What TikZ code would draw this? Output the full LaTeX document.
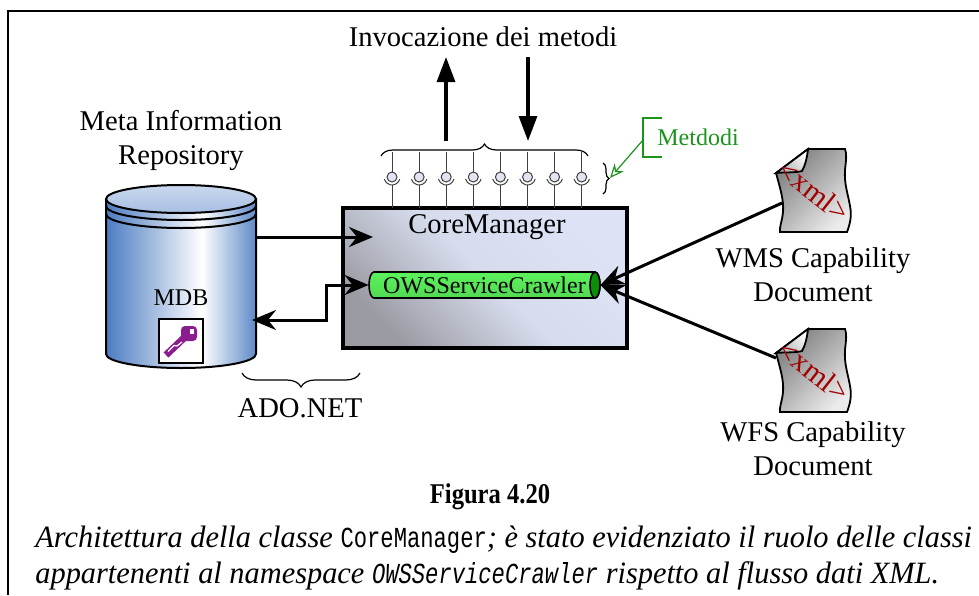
\documentclass[tikz,border=0pt]{standalone}
\usepackage{fontspec}
\setmainfont{Liberation Serif}
\setmonofont{Liberation Mono}
\usetikzlibrary{arrows.meta,decorations.pathreplacing}

\definecolor{dbblue}{HTML}{4C7CC2}
\definecolor{dbtop}{HTML}{A7BFE3}
\definecolor{boxlight}{HTML}{DDE3F5}
\definecolor{boxdark}{HTML}{9A9AA2}
\definecolor{tubegreen}{HTML}{5CF25C}
\definecolor{tubelight}{HTML}{E0FFE0}
\definecolor{tubeend}{HTML}{0B8F0B}
\definecolor{keypurple}{HTML}{8A1E8E}
\definecolor{xmlred}{HTML}{A30000}
\definecolor{notegreen}{HTML}{1A941A}
\definecolor{sockfill}{HTML}{E1E5F1}

% cylinder body, light band right of the middle
\pgfdeclarehorizontalshading{dbbody}{100bp}{color(0bp)=(dbblue); color(25bp)=(dbblue); color(57bp)=(white); color(75bp)=(dbblue!90); color(100bp)=(dbblue!90)}

\newcommand{\bigfont}{\fontsize{14.3}{17}\selectfont}
\newcommand{\smallfont}{\fontsize{12}{14}\selectfont}
% narrow typewriter words inside the caption
\newcommand{\capmono}[1]{\scalebox{0.78}[1]{\fontsize{14.5}{18}\selectfont\ttfamily #1}}

\tikzset{fat/.tip={Stealth[length=12pt, width=10pt, inset=4pt]}}

\begin{document}
\begin{tikzpicture}[x=0.5pt, y=-0.5pt,
  lbl/.style={font=\bigfont, inner sep=0pt, align=center},
  call/.style={line width=1.6pt, -{Triangle[length=12.5pt, width=9pt]}},
  flow/.style={line width=1.5pt, -fat},
  flowboth/.style={line width=1.5pt, fat-fat},
  stem/.style={line width=0.5pt, black!75},
  brc/.style={decorate, line width=0.6pt},
  doc/.style={draw, line width=0.9pt, top color=black!8, bottom color=black!50, shading angle=-135},
  flap/.style={draw, line width=0.9pt, top color=white, bottom color=black!30, shading angle=-45},
  capline/.style={font=\fontsize{15.5}{18}\selectfont, inner sep=0pt, anchor=base west},
]
\useasboundingbox (0,0) rectangle (979,595);
\draw[line width=1.1pt] (8,595) -- (8,11) -- (979,11);

% repository
\node[lbl] (repo) at (181,141) {Meta Information\\Repository};
\shadedraw[shading=dbbody, line width=1pt] (106,199) -- (106,354)
  arc[start angle=180, end angle=0, x radius=75, y radius=14] -- (256,199) -- cycle;
\shadedraw[top color=dbtop!60!white, bottom color=dbtop, line width=1pt]
  (181,199) ellipse[x radius=75, y radius=14];
\draw[line width=1pt] (106,206) arc[start angle=180, end angle=0, x radius=75, y radius=14];
\draw[line width=1pt] (106,214) arc[start angle=180, end angle=0, x radius=75, y radius=14];
\node[font=\smallfont, inner sep=0pt] (mdb) at (181,298) {MDB};
\node[draw, fill=white, line width=0.8pt, minimum size=22pt, inner sep=0pt] (keybox) at (181,341) {};
% key
\fill[keypurple, rounded corners=2pt] (181,326) rectangle (197,341);
\fill[white] (189.5,329) rectangle (194,333.5);
\draw[keypurple, line width=3.5pt] (185,337) -- (166,355);
\draw[white, line width=0.6pt] (182,342) -- (177,346) -- (174,345.5) -- (168,351.5);

\draw[brc, decoration={brace, amplitude=7pt}] (360,373) -- (242,373);
\node[lbl] (ado) at (300,408) {ADO.NET};

% core manager
\node[draw, line width=1.6pt, minimum width=142pt, minimum height=70pt,
  top color=boxlight, bottom color=boxdark, middle color=boxlight!90!boxdark,
  shading angle=-45] (core) at (485,278) {};
\node[lbl] (coretitle) at (487,227) {CoreManager};

\shadedraw[line width=0.8pt, top color=tubegreen, middle color=tubelight, bottom color=tubegreen!90!black]
  (374,272) -- (595,272) arc[start angle=-90, end angle=90, x radius=5, y radius=13]
  -- (374,298) arc[start angle=90, end angle=270, x radius=5, y radius=13] -- cycle;
\draw[line width=0.8pt, fill=tubeend] (595,285) ellipse[x radius=5, y radius=13];
\node[font=\smallfont, inner sep=0pt, minimum width=115.5pt, minimum height=13pt] (crawler) at (484.5,285) {OWSServiceCrawler};

% exposed methods
\foreach \i in {0,...,7} {
  \pgfmathsetmacro\lx{392+27.1*\i}
  \draw[stem] (\lx,152) -- (\lx,172);
  \draw[stem] (\lx,185) -- (\lx,208);
  \draw[stem, fill=sockfill] (\lx,177) circle[radius=5];
  \draw[stem] (\lx,177) ++(15:8) arc[start angle=15, end angle=165, radius=8];
}
\draw[brc, decoration={brace, amplitude=6pt}] (381,156) -- (588,156);
\draw[brc, decoration={brace, amplitude=3pt}] (603,163) -- (603,194);

\node[lbl] (inv) at (483,37) {Invocazione dei metodi};
\coordinate (upfrom) at (446,141);
\coordinate (upto) at (446,57);
\coordinate (dnfrom) at (528,57);
\coordinate (dnto) at (528,141);
\draw[call] (upfrom) -- (upto);
\draw[call] (dnfrom) -- (dnto);

\node[font=\smallfont, text=notegreen, inner sep=0pt, anchor=west] (note) at (657,137) {Metdodi};
\draw[notegreen, line width=0.6pt] (662,118) -- (643,118) -- (643,157) -- (662,157);
\coordinate (notetail) at (643,140);
\coordinate (methbrace) at (610,178);
\draw[notegreen, line width=0.6pt, -{Stealth[open, length=7pt, width=6pt]}] (notetail) -- (methbrace);

% capability documents
\foreach \dy/\nm/\ax/\ay in {148/wms/7/55, 328/wfs/1/30} {
  \begin{scope}[shift={(775,\dy)}]
    \shadedraw[doc] (1,25) .. controls (5,40) and (9,52) .. (8,64)
      .. controls (7,74) and (4,80) .. (5,84) -- (72,84)
      .. controls (75,76) and (77,68) .. (75,58)
      .. controls (73,46) and (69,36) .. (70,22)
      .. controls (71,12) and (72,6) .. (70,1) -- (33,1) -- cycle;
    \shadedraw[flap] (1,25) -- (33,1) .. controls (32,10) and (30,18) .. (27,23)
      .. controls (20,25) and (10,24) .. (1,25) -- cycle;
    \node[text=xmlred, font=\fontsize{15}{16}\selectfont, rotate=-38, inner sep=0pt] at (39,43) {<xml>};
    \coordinate (\nm) at (\ax,\ay);
  \end{scope}
}
\node[lbl] (wmslbl) at (813,275) {WMS Capability\\Document};
\node[lbl] (wfslbl) at (813,449) {WFS Capability\\Document};

% data flow
\coordinate (dbout) at (257,237);
\coordinate (corein) at (373,237);
\coordinate (dbin) at (252,320);
\coordinate (jog) at (326,320);
\draw[flow] (dbout) -- (corein);
\draw[flowboth] (dbin) -- (jog) |- (crawler.west);
\draw[flow] (wms) -- (crawler.east);
\draw[flow] (wfs) -- (crawler.east);

% caption
\node[font=\bfseries\bigfont, inner sep=0pt] (fig) at (490,497) {\scalebox{0.86}[1]{Figura 4.20}};
\node[capline] (cap1) at (35,547)
  {\scalebox{0.98}[1]{\textit{Architettura della classe }\capmono{CoreManager}\textit{; è stato evidenziato il ruolo delle classi}}};
\node[capline] (cap2) at (35,583)
  {\scalebox{0.98}[1]{\textit{appartenenti al namespace }\capmono{\itshape OWSServiceCrawler}\textit{ rispetto al flusso dati XML.}}};
\end{tikzpicture}
\end{document}
